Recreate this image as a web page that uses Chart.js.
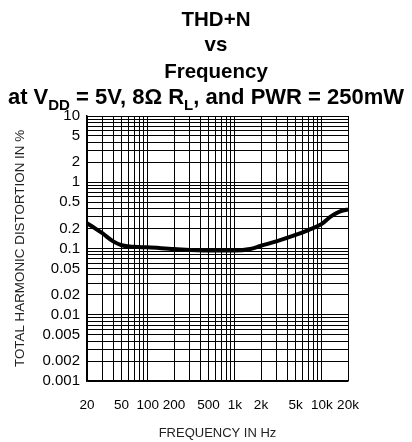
<!DOCTYPE html>
<html>
<head>
<meta charset="utf-8">
<script src="https://cdn.jsdelivr.net/npm/chart.js@4/dist/chart.umd.min.js"></script>
<style>
html,body{margin:0;padding:0;background:#fff;}
#wrap{position:relative;width:412px;height:442px;}
</style>
</head>
<body>
<div id="wrap"><canvas id="c" width="412" height="442"></canvas></div>
<script>
// ---- data ----
const freqHz = [20, 25, 30, 40, 50, 70, 100, 200, 500, 1000, 1500, 2000, 3000, 5000, 7000, 10000, 12500, 16000, 20000];
const thdPct = [0.24, 0.20, 0.17, 0.128, 0.112, 0.106, 0.104, 0.098, 0.093, 0.093, 0.098, 0.11, 0.128, 0.16, 0.19, 0.235, 0.30, 0.36, 0.39];

const xLabelValues = [20, 50, 100, 200, 500, 1000, 2000, 5000, 10000, 20000];
const xLabelTexts  = ['20', '50', '100', '200', '500', '1k', '2k', '5k', '10k', '20k'];
const yLabelValues = [0.001, 0.002, 0.005, 0.01, 0.02, 0.05, 0.1, 0.2, 0.5, 1, 2, 5, 10];
const yLabelTexts  = ['0.001', '0.002', '0.005', '0.01', '0.02', '0.05', '0.1', '0.2', '0.5', '1', '2', '5', '10'];

const titleLines = ['THD+N', 'vs', 'Frequency'];
const titleLast = [['at V', false], ['DD', true], [' = 5V, 8\u03A9 R', false], ['L', true], [', and PWR = 250mW', false]];
const xTitle = 'FREQUENCY IN Hz';
const yTitle = 'TOTAL HARMONIC DISTORTION IN %';

// grid tick positions (log minor grid)
function logGrid(minV, maxV) {
  const out = [];
  for (let e = -4; e <= 5; e++) {
    for (let m = 1; m <= 9; m++) {
      const v = parseFloat((m * Math.pow(10, e)).toPrecision(6));
      if (v >= minV - 1e-12 && v <= maxV + 1e-9) out.push(v);
    }
  }
  return out;
}
const xGrid = logGrid(20, 20000);
const yGrid = logGrid(0.001, 10);

function near(a, b) { return Math.abs(a - b) / b < 1e-6; }
function labelFor(values, texts, v) {
  for (let i = 0; i < values.length; i++) if (near(values[i], v)) return texts[i];
  return '';
}

const titlePlugin = {
  id: 'titleSub',
  afterDraw(chart) {
    const ctx = chart.ctx;
    ctx.save();
    ctx.fillStyle = '#000';
    ctx.textBaseline = 'alphabetic';
    ctx.textAlign = 'left';
    const mainFont = 'bold 20.5px "Liberation Sans", Arial, sans-serif';
    const baselines = [26, 51, 78];
    ctx.font = mainFont;
    titleLines.forEach((t, i) => {
      const w = ctx.measureText(t).width;
      ctx.fillText(t, 216 - w / 2, baselines[i]);
    });
    const bigF = 'bold 22px "Liberation Sans", Arial, sans-serif';
    const subF = 'bold 15px "Liberation Sans", Arial, sans-serif';
    let total = 0;
    titleLast.forEach(([t, sub]) => { ctx.font = sub ? subF : bigF; total += ctx.measureText(t).width; });
    let x = 206 - total / 2;
    titleLast.forEach(([t, sub]) => {
      ctx.font = sub ? subF : bigF;
      ctx.fillText(t, x, sub ? 110 : 104);
      x += ctx.measureText(t).width;
    });
    ctx.restore();
  }
};

new Chart(document.getElementById('c'), {
  type: 'line',
  data: {
    labels: freqHz,
    datasets: [{
      data: freqHz.map((f, i) => ({x: f, y: thdPct[i]})),
      borderColor: '#000',
      borderWidth: 4,
      pointRadius: 0,
      fill: false,
      cubicInterpolationMode: 'monotone'
    }]
  },
  options: {
    responsive: false,
    animation: false,
    devicePixelRatio: 1,
    layout: {padding: {top: 116, right: 64, bottom: 0, left: 0}},
    plugins: {legend: {display: false}, title: {display: false}, tooltip: {enabled: false}},
    scales: {
      x: {
        type: 'logarithmic',
        min: 20, max: 20000,
        afterBuildTicks: s => { s.ticks = xGrid.map(v => ({value: v})); },
        afterFit: s => { s.height = 61; },
        grid: {color: '#000', lineWidth: 1, drawTicks: false},
        border: {color: '#000', width: 1.5},
        ticks: {
          autoSkip: false, maxRotation: 0, minRotation: 0, padding: 16,
          color: '#000', font: {family: '"Liberation Sans", Arial, sans-serif', size: 13.5},
          callback: v => labelFor(xLabelValues, xLabelTexts, v)
        },
        title: {display: true, text: xTitle, color: '#222', padding: {top: 0, bottom: 1},
          font: {family: '"Liberation Sans", Arial, sans-serif', size: 13}}
      },
      y: {
        type: 'logarithmic',
        min: 0.001, max: 10,
        afterBuildTicks: s => { s.ticks = yGrid.map(v => ({value: v})); },
        afterFit: s => { s.width = 87; },
        grid: {color: '#000', lineWidth: 1, drawTicks: false},
        border: {color: '#000', width: 1.5},
        ticks: {
          autoSkip: false, padding: 7,
          color: '#000', font: {family: '"Liberation Sans", Arial, sans-serif', size: 15},
          callback: v => labelFor(yLabelValues, yLabelTexts, v)
        },
        title: {display: true, text: yTitle, color: '#222', padding: {top: 12, bottom: 0},
          font: {family: '"Liberation Sans", Arial, sans-serif', size: 13.4}}
      }
    }
  },
  plugins: [titlePlugin]
});
</script>
</body>
</html>
